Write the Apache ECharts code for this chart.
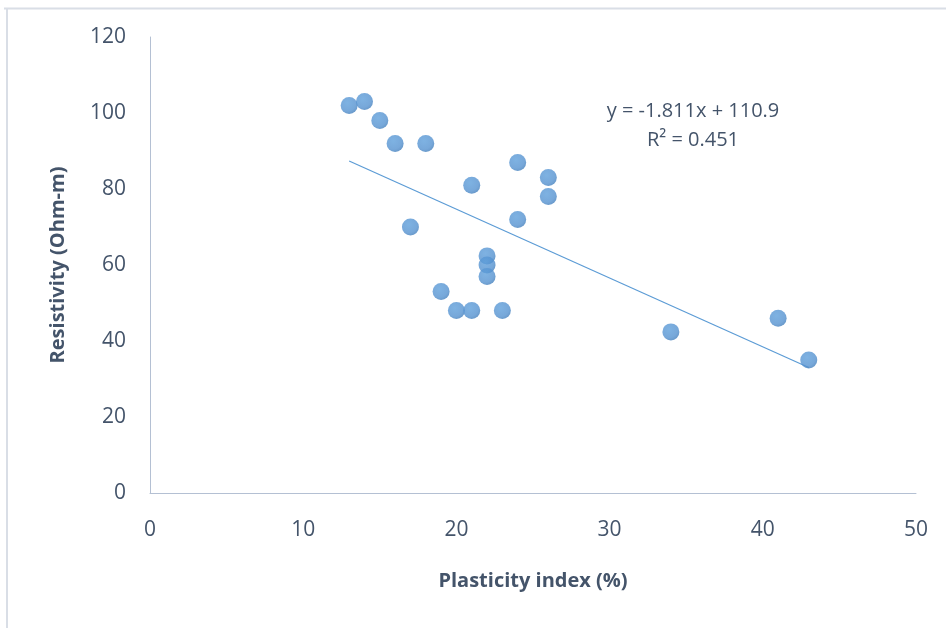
<!DOCTYPE html>
<html>
<head>
<meta charset="utf-8">
<script src="https://cdn.jsdelivr.net/npm/echarts@6/dist/echarts.min.js"></script>
<style>
html,body{margin:0;padding:0;background:#fff;}
#c{width:947px;height:628px;}
</style>
</head>
<body>
<div id="c"></div>
<script>
var plasticity = [13, 14, 15, 16, 18, 17, 19, 20, 21, 21, 22, 22, 22, 23, 24, 24, 26, 26, 34, 41, 43];
var resistivity = [102, 103, 98, 92, 92, 70, 53, 48, 48, 81, 62.4, 60, 57, 48, 87, 72, 83, 78, 42.4, 46, 35];
var trendSlope = -1.811;
var trendIntercept = 110.9;
var trendRange = [13, 43];
var xTicks = [0, 10, 20, 30, 40, 50];
var yTicks = [0, 20, 40, 60, 80, 100, 120];
var equationText = ['y = -1.811x + 110.9', 'R² = 0.451'];

var points = plasticity.map(function (x, i) { return [x, resistivity[i]]; });
var trend = trendRange.map(function (x) { return [x, trendSlope * x + trendIntercept]; });

var txt = '#44546A';
var font = '"Open Sans", "Noto Sans", sans-serif';
var chart = echarts.init(document.getElementById('c'));
chart.setOption({
  animation: false,
  grid: {left: 150, right: 31, top: 37, bottom: 135},
  xAxis: {
    type: 'value', min: xTicks[0], max: xTicks[xTicks.length - 1], interval: 10,
    name: 'Plasticity index (%)', nameLocation: 'middle', nameGap: 78,
    nameTextStyle: {color: txt, fontSize: 20, fontWeight: 'bold', fontFamily: font},
    axisLine: {show: true, lineStyle: {color: '#B4C0D3', width: 1}},
    axisTick: {show: false},
    splitLine: {show: false},
    axisLabel: {color: txt, fontSize: 21, fontFamily: font, margin: 27}
  },
  yAxis: {
    type: 'value', min: yTicks[0], max: yTicks[yTicks.length - 1], interval: 20,
    name: 'Resistivity (Ohm-m)', nameLocation: 'middle', nameGap: 82,
    nameTextStyle: {color: txt, fontSize: 20, fontWeight: 'bold', fontFamily: font},
    axisLine: {show: true, lineStyle: {color: '#B4C0D3', width: 1}},
    axisTick: {show: false},
    splitLine: {show: false},
    axisLabel: {color: txt, fontSize: 21, fontFamily: font, margin: 24, padding: [4, 0, 0, 0]}
  },
  series: [
    {
      type: 'line', data: trend, symbol: 'none', silent: true,
      lineStyle: {color: '#5B9BD5', width: 1.2}, z: 1
    },
    {
      type: 'scatter', data: points, symbolSize: 17, z: 2,
      itemStyle: {
        color: new echarts.graphic.RadialGradient(0.4, 0.35, 0.7, [
          {offset: 0, color: '#5E9FDB'},
          {offset: 0.7, color: '#5592D0'},
          {offset: 1, color: '#417DBA'}
        ])
      }
    }
  ],
  graphic: [
    {type: 'line', shape: {x1: 4, y1: 8.5, x2: 946, y2: 8.5}, style: {stroke: '#D9DEE6', lineWidth: 2}, silent: true},
    {type: 'line', shape: {x1: 7, y1: 8, x2: 7, y2: 628}, style: {stroke: '#D9DEE6', lineWidth: 2}, silent: true},
    {type: 'text', x: 693, y: 111, style: {text: equationText[0], fill: txt, font: '20px ' + font, textAlign: 'center', textVerticalAlign: 'middle'}},
    {type: 'text', x: 693, y: 140, style: {text: equationText[1], fill: txt, font: '20px ' + font, textAlign: 'center', textVerticalAlign: 'middle'}}
  ]
});
</script>
</body>
</html>
